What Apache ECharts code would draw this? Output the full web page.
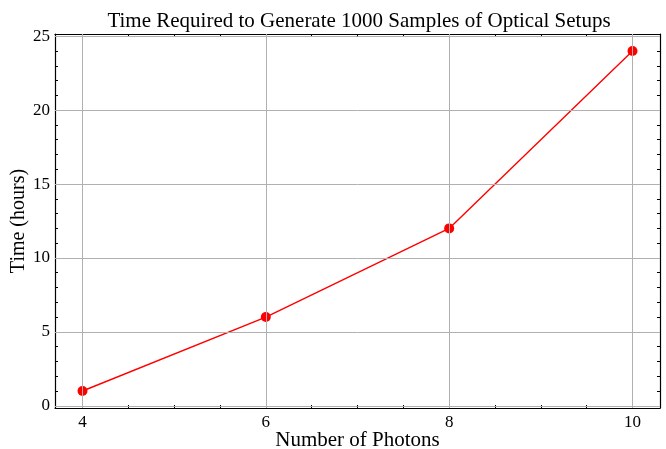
<!DOCTYPE html>
<html>
<head>
<meta charset="utf-8">
<script src="https://cdn.jsdelivr.net/npm/echarts@6/dist/echarts.min.js"></script>
<style>html,body{margin:0;padding:0;background:#fff}#c{width:666px;height:449px}</style>
</head>
<body>
<div id="c"></div>
<script>
const photons = [4, 6, 8, 10];
const hours = [1, 6, 12, 24];
const xMajor = [4, 6, 8, 10];
const xMinor = [4.5, 5, 5.5, 6.5, 7, 7.5, 8.5, 9, 9.5, 10.5];
const yMajor = [0, 5, 10, 15, 20, 25];
const yMinor = [1, 2, 3, 4, 6, 7, 8, 9, 11, 12, 13, 14, 16, 17, 18, 19, 21, 22, 23, 24];
const titleText = 'Time Required to Generate 1000 Samples of Optical Setups';
const xName = 'Number of Photons';
const yName = 'Time (hours)';

const FONT = 'Liberation Serif';
const X_MIN = 3.7, X_MAX = 10.3, Y_MIN = -0.15, Y_MAX = 25.15;

function xAx(pos, ticks, len, showLabel, showLine) {
  return {
    type: 'value', position: pos, min: X_MIN, max: X_MAX,
    axisLine: {show: showLine, onZero: false, lineStyle: {color: '#000', width: 1.2}},
    axisTick: {show: true, inside: true, length: len, customValues: ticks, lineStyle: {color: '#000', width: 1}},
    axisLabel: {show: showLabel, customValues: ticks, color: '#000', fontFamily: FONT, fontSize: 17, margin: 6},
    splitLine: {show: false}
  };
}
function yAx(pos, ticks, len, showLabel, showLine) {
  return {
    type: 'value', position: pos, min: Y_MIN, max: Y_MAX,
    axisLine: {show: showLine, onZero: false, lineStyle: {color: '#000', width: 1.2}},
    axisTick: {show: true, inside: true, length: len, customValues: ticks, lineStyle: {color: '#000', width: 1}},
    axisLabel: {show: showLabel, customValues: ticks, color: '#000', fontFamily: FONT, fontSize: 17, margin: 5},
    splitLine: {show: false}
  };
}

const xAxes = [
  xAx('bottom', xMajor, 5, true, true),
  xAx('bottom', xMinor, 3, false, false),
  xAx('top', xMajor, 5, false, true),
  xAx('top', xMinor, 3, false, false)
];
xAxes[0].name = xName;
xAxes[0].nameLocation = 'middle';
xAxes[0].nameGap = 22;
xAxes[0].nameMoveOverlap = false;
xAxes[0].nameTextStyle = {color: '#000', fontFamily: FONT, fontSize: 21};

const yAxes = [
  yAx('left', yMajor, 5, true, true),
  yAx('left', yMinor, 3, false, false),
  yAx('right', yMajor, 5, false, true),
  yAx('right', yMinor, 3, false, false)
];
yAxes[0].name = yName;
yAxes[0].nameLocation = 'middle';
yAxes[0].nameGap = 26;
yAxes[0].nameMoveOverlap = false;
yAxes[0].nameTextStyle = {color: '#000', fontFamily: FONT, fontSize: 20};

const gridLines = xMajor.map(v => ({xAxis: v})).concat(yMajor.map(v => ({yAxis: v})));

const chart = echarts.init(document.getElementById('c'), null, {renderer: 'canvas'});
chart.setOption({
  animation: false,
  backgroundColor: '#fff',
  title: {
    text: titleText, left: 354, textAlign: 'center', top: 6,
    textStyle: {color: '#000', fontFamily: FONT, fontSize: 21, fontWeight: 'normal'}
  },
  grid: {left: 55, right: 6, top: 34, bottom: 41, containLabel: false, outerBoundsMode: 'none'},
  xAxis: xAxes,
  yAxis: yAxes,
  series: [
    {
      type: 'line', data: [], z: 1, silent: true,
      markLine: {
        silent: true, symbol: ['none', 'none'], label: {show: false},
        lineStyle: {color: '#b0b0b0', width: 1, type: 'solid'},
        emphasis: {disabled: true},
        data: gridLines, animation: false
      }
    },
    {
      type: 'line', z: 3,
      data: photons.map((p, i) => [p, hours[i]]),
      lineStyle: {color: '#ff0000', width: 1.4},
      itemStyle: {color: '#ff0000'},
      symbol: 'circle', symbolSize: 10,
      showSymbol: true
    }
  ]
});
</script>
</body>
</html>
